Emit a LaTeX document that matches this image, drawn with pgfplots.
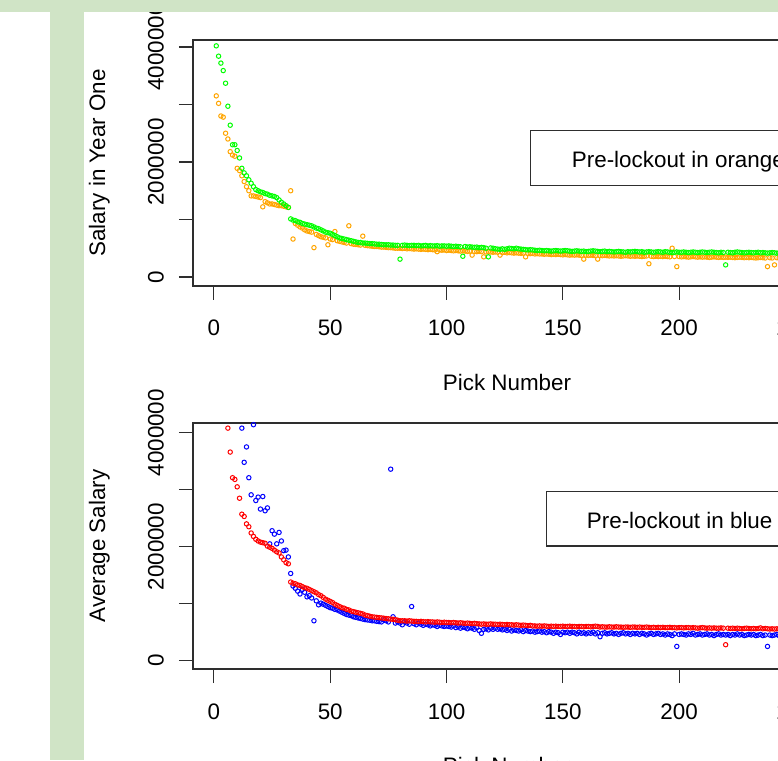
\documentclass[border=0pt]{standalone}
\usepackage{fontspec}
\setmainfont{Liberation Sans}
\usepackage{pgfplots}
\pgfplotsset{compat=1.18}
\definecolor{bgg}{HTML}{D0E4C6}
\definecolor{rorange}{HTML}{FFA500}
\definecolor{rgreen}{HTML}{00FF00}
\definecolor{rred}{HTML}{FF0000}
\definecolor{rblue}{HTML}{0000FF}
\definecolor{frm}{HTML}{2E2E2E}
\newcommand{\bigf}{\fontsize{22.4}{26}\selectfont}
\pgfplotsset{
  rstyle/.style={
    scale only axis, width=628pt, height=246pt,
    xmin=-9, xmax=261,
    axis line style={frm, line width=1.1pt},
    tick style={frm, line width=1.1pt},
    tick align=outside, major tick length=14pt,
    xtick={0,50,100,150,200,250}, xtick pos=bottom,
    ytick={0,1,2,3,4}, yticklabels={0,,2000000,,4000000}, ytick pos=left,
    /pgf/number format/assume math mode=true,
    tick label style={font=\bigf},
    xticklabel style={anchor=base, inner sep=0pt, yshift=-36pt},
    yticklabel style={xshift=-15pt, rotate=90, anchor=south, inner sep=0pt},
    xlabel={Pick Number},
    every axis x label/.style={at={(axis description cs:0.5,-0.4268)}, anchor=base, font=\bigf, inner sep=0pt},
    every axis y label/.style={at={(axis description cs:-0.1401,0.5)}, rotate=90, anchor=base, font=\bigf, inner sep=0pt},
  },
  pts/.style={only marks, mark=o, mark size=2.2pt, mark options={line width=1pt}, #1},
}
\begin{document}
\begin{tikzpicture}
\useasboundingbox (0pt,0pt) rectangle (778pt,760pt);
\clip (0pt,0pt) rectangle (778pt,760pt);
\begin{axis}[rstyle, at={(193pt,474pt)}, anchor=south west, ymin=-0.157, ymax=4.122, ylabel={Salary in Year One}]
\addplot[pts=rorange] coordinates {
(1,3.15)(2,3.02)(3,2.80)(4,2.78)(5,2.50)(6,2.40)(7,2.18)(8,2.12)(9,2.10)(10,1.89)
(11,1.85)(12,1.76)(13,1.66)(14,1.57)(15,1.50)(16,1.41)(17,1.41)(18,1.40)(19,1.39)(20,1.38)
(21,1.22)(22,1.31)(23,1.29)(24,1.27)(25,1.27)(26,1.26)(27,1.25)(28,1.24)(29,1.24)(30,1.23)
(31,1.22)(32,1.21)(33,1.50)(34,0.66)(35,0.93)(36,0.90)(37,0.87)(38,0.85)(39,0.82)(40,0.80)
(41,0.79)(42,0.78)(43,0.51)(44,0.74)(45,0.72)(46,0.70)(47,0.69)(48,0.68)(49,0.56)(50,0.66)
(51,0.65)(52,0.79)(53,0.63)(54,0.62)(55,0.61)(56,0.60)(57,0.59)(58,0.89)(59,0.58)(60,0.57)
(61,0.565)(62,0.56)(63,0.555)(64,0.71)(65,0.55)(66,0.545)(67,0.54)(68,0.535)(69,0.53)(70,0.53)
(71,0.525)(72,0.52)(73,0.52)(74,0.515)(75,0.51)(76,0.51)(77,0.505)(78,0.50)(79,0.50)(80,0.50)
(81,0.495)(82,0.50)(83,0.49)(84,0.495)(85,0.49)(86,0.485)(87,0.49)(88,0.485)(89,0.48)(90,0.485)
(91,0.48)(92,0.475)(93,0.48)(94,0.475)(95,0.47)(96,0.44)(97,0.47)(98,0.465)(99,0.47)(100,0.46)
(101,0.465)(102,0.46)(103,0.455)(104,0.46)(105,0.455)(106,0.45)(107,0.455)(108,0.45)(109,0.445)(110,0.45)
(111,0.38)(112,0.445)(113,0.44)(114,0.445)(115,0.44)(116,0.35)(117,0.435)(118,0.44)(119,0.435)(120,0.43)
(121,0.435)(122,0.43)(123,0.38)(124,0.425)(125,0.43)(126,0.42)(127,0.425)(128,0.42)(129,0.415)(130,0.42)
(131,0.415)(132,0.41)(133,0.415)(134,0.35)(135,0.41)(136,0.405)(137,0.41)(138,0.40)(139,0.405)(140,0.40)
(141,0.40)(142,0.395)(143,0.40)(144,0.395)(145,0.39)(146,0.395)(147,0.39)(148,0.395)(149,0.39)(150,0.385)
(151,0.39)(152,0.385)(153,0.38)(154,0.385)(155,0.38)(156,0.385)(157,0.38)(158,0.375)(159,0.31)(160,0.38)
(161,0.375)(162,0.38)(163,0.375)(164,0.37)(165,0.31)(166,0.375)(167,0.37)(168,0.375)(169,0.37)(170,0.365)
(171,0.37)(172,0.365)(173,0.37)(174,0.365)(175,0.36)(176,0.365)(177,0.37)(178,0.365)(179,0.36)(180,0.365)
(181,0.36)(182,0.365)(183,0.36)(184,0.355)(185,0.36)(186,0.365)(187,0.23)(188,0.36)(189,0.355)(190,0.36)
(191,0.355)(192,0.36)(193,0.355)(194,0.36)(195,0.355)(196,0.35)(197,0.50)(198,0.355)(199,0.18)(200,0.355)
(201,0.35)(202,0.355)(203,0.35)(204,0.345)(205,0.35)(206,0.355)(207,0.35)(208,0.345)(209,0.35)(210,0.345)
(211,0.35)(212,0.345)(213,0.34)(214,0.345)(215,0.35)(216,0.345)(217,0.34)(218,0.345)(219,0.34)(220,0.345)
(221,0.34)(222,0.345)(223,0.34)(224,0.335)(225,0.34)(226,0.345)(227,0.34)(228,0.335)(229,0.34)(230,0.335)
(231,0.34)(232,0.335)(233,0.33)(234,0.335)(235,0.34)(236,0.335)(237,0.33)(238,0.18)(239,0.335)(240,0.33)
(241,0.21)(242,0.335)(243,0.33)(244,0.325)(245,0.33)(246,0.335)(247,0.33)(248,0.325)(249,0.33)(250,0.325)
};
\addplot[pts=rgreen] coordinates {
(1,4.02)(2,3.84)(3,3.72)(4,3.59)(5,3.37)(6,2.97)(7,2.64)(8,2.30)(9,2.30)(10,2.20)
(11,2.07)(12,1.89)(13,1.81)(14,1.76)(15,1.69)(16,1.63)(17,1.57)(18,1.52)(19,1.50)(20,1.48)
(21,1.47)(22,1.45)(23,1.44)(24,1.42)(25,1.41)(26,1.40)(27,1.38)(28,1.34)(29,1.30)(30,1.27)
(31,1.24)(32,1.21)(33,1.01)(34,0.99)(35,0.98)(36,0.96)(37,0.95)(38,0.93)(39,0.92)(40,0.91)
(41,0.90)(42,0.89)(43,0.87)(44,0.85)(45,0.84)(46,0.82)(47,0.80)(48,0.78)(49,0.77)(50,0.76)
(51,0.74)(52,0.72)(53,0.70)(54,0.68)(55,0.67)(56,0.66)(57,0.65)(58,0.64)(59,0.63)(60,0.62)
(61,0.61)(62,0.60)(63,0.60)(64,0.59)(65,0.59)(66,0.585)(67,0.58)(68,0.58)(69,0.575)(70,0.57)
(71,0.57)(72,0.565)(73,0.56)(74,0.56)(75,0.56)(76,0.555)(77,0.555)(78,0.55)(79,0.55)(80,0.31)
(81,0.55)(82,0.555)(83,0.55)(84,0.545)(85,0.55)(86,0.55)(87,0.545)(88,0.55)(89,0.54)(90,0.545)
(91,0.55)(92,0.54)(93,0.545)(94,0.54)(95,0.54)(96,0.545)(97,0.535)(98,0.54)(99,0.54)(100,0.535)
(101,0.54)(102,0.535)(103,0.53)(104,0.535)(105,0.53)(106,0.525)(107,0.36)(108,0.53)(109,0.52)(110,0.525)
(111,0.52)(112,0.515)(113,0.52)(114,0.51)(115,0.515)(116,0.51)(117,0.50)(118,0.35)(119,0.505)(120,0.50)
(121,0.49)(122,0.485)(123,0.48)(124,0.49)(125,0.48)(126,0.49)(127,0.50)(128,0.495)(129,0.49)(130,0.50)
(131,0.49)(132,0.485)(133,0.48)(134,0.475)(135,0.47)(136,0.475)(137,0.47)(138,0.465)(139,0.46)(140,0.465)
(141,0.46)(142,0.455)(143,0.46)(144,0.455)(145,0.45)(146,0.455)(147,0.46)(148,0.455)(149,0.45)(150,0.455)
(151,0.46)(152,0.455)(153,0.45)(154,0.445)(155,0.45)(156,0.455)(157,0.45)(158,0.445)(159,0.45)(160,0.44)
(161,0.445)(162,0.45)(163,0.455)(164,0.45)(165,0.445)(166,0.44)(167,0.445)(168,0.45)(169,0.44)(170,0.445)
(171,0.44)(172,0.435)(173,0.44)(174,0.445)(175,0.44)(176,0.435)(177,0.43)(178,0.44)(179,0.435)(180,0.44)
(181,0.445)(182,0.44)(183,0.435)(184,0.44)(185,0.43)(186,0.435)(187,0.44)(188,0.435)(189,0.43)(190,0.435)
(191,0.44)(192,0.435)(193,0.43)(194,0.44)(195,0.435)(196,0.43)(197,0.425)(198,0.43)(199,0.435)(200,0.43)
(201,0.43)(202,0.435)(203,0.43)(204,0.425)(205,0.43)(206,0.435)(207,0.43)(208,0.425)(209,0.43)(210,0.435)
(211,0.43)(212,0.425)(213,0.43)(214,0.435)(215,0.43)(216,0.425)(217,0.42)(218,0.43)(219,0.425)(220,0.21)
(221,0.43)(222,0.425)(223,0.42)(224,0.43)(225,0.435)(226,0.43)(227,0.425)(228,0.42)(229,0.425)(230,0.43)
(231,0.425)(232,0.42)(233,0.425)(234,0.43)(235,0.42)(236,0.425)(237,0.42)(238,0.415)(239,0.42)(240,0.425)
(241,0.42)(242,0.415)(243,0.42)(244,0.425)(245,0.42)(246,0.415)(247,0.41)(248,0.42)(249,0.415)(250,0.41)
};
\end{axis}
\begin{axis}[rstyle, at={(193pt,91pt)}, anchor=south west, ymin=-0.146, ymax=4.17, ylabel={Average Salary}]
\addplot[pts=rblue] coordinates {
(12,4.08)(13,3.48)(14,3.75)(15,3.21)(16,2.91)(17,4.14)(18,2.81)(19,2.87)(20,2.66)
(21,2.88)(22,2.63)(23,2.68)(24,2.05)(25,2.28)(26,2.22)(27,2.05)(28,2.25)(29,2.10)(30,1.93)
(31,1.94)(32,1.82)(33,1.53)(34,1.31)(35,1.27)(36,1.22)(37,1.17)(38,1.25)(39,1.20)(40,1.12)
(41,1.14)(42,1.10)(43,0.70)(44,1.05)(45,0.98)(46,1.01)(47,0.99)(48,0.97)(49,0.95)(50,0.93)
(51,0.92)(52,0.90)(53,0.89)(54,0.87)(55,0.85)(56,0.83)(57,0.81)(58,0.80)(59,0.79)(60,0.77)
(61,0.76)(62,0.75)(63,0.74)(64,0.73)(65,0.72)(66,0.715)(67,0.71)(68,0.70)(69,0.70)(70,0.69)
(71,0.685)(72,0.68)(73,0.72)(74,0.70)(75,0.68)(76,3.36)(77,0.77)(78,0.66)(79,0.68)(80,0.66)
(81,0.63)(82,0.68)(83,0.66)(84,0.64)(85,0.95)(86,0.65)(87,0.63)(88,0.66)(89,0.64)(90,0.62)
(91,0.64)(92,0.63)(93,0.61)(94,0.63)(95,0.62)(96,0.60)(97,0.62)(98,0.61)(99,0.60)(100,0.61)
(101,0.60)(102,0.59)(103,0.61)(104,0.58)(105,0.60)(106,0.57)(107,0.59)(108,0.58)(109,0.56)(110,0.58)
(111,0.57)(112,0.55)(113,0.58)(114,0.53)(115,0.48)(116,0.55)(117,0.56)(118,0.54)(119,0.57)(120,0.55)
(121,0.57)(122,0.55)(123,0.56)(124,0.54)(125,0.55)(126,0.53)(127,0.55)(128,0.52)(129,0.54)(130,0.53)
(131,0.52)(132,0.54)(133,0.51)(134,0.53)(135,0.52)(136,0.51)(137,0.52)(138,0.50)(139,0.51)(140,0.52)
(141,0.50)(142,0.51)(143,0.49)(144,0.51)(145,0.50)(146,0.48)(147,0.50)(148,0.49)(149,0.46)(150,0.50)
(151,0.49)(152,0.50)(153,0.48)(154,0.50)(155,0.49)(156,0.47)(157,0.50)(158,0.48)(159,0.49)(160,0.47)
(161,0.49)(162,0.48)(163,0.50)(164,0.47)(165,0.49)(166,0.42)(167,0.48)(168,0.49)(169,0.47)(170,0.48)
(171,0.49)(172,0.47)(173,0.48)(174,0.46)(175,0.48)(176,0.49)(177,0.47)(178,0.48)(179,0.46)(180,0.48)
(181,0.47)(182,0.48)(183,0.46)(184,0.48)(185,0.47)(186,0.45)(187,0.47)(188,0.48)(189,0.46)(190,0.47)
(191,0.48)(192,0.46)(193,0.47)(194,0.45)(195,0.47)(196,0.46)(197,0.44)(198,0.47)(199,0.25)(200,0.46)
(201,0.47)(202,0.46)(203,0.45)(204,0.47)(205,0.46)(206,0.48)(207,0.45)(208,0.46)(209,0.47)(210,0.45)
(211,0.46)(212,0.47)(213,0.45)(214,0.46)(215,0.44)(216,0.46)(217,0.47)(218,0.45)(219,0.46)(220,0.45)
(221,0.46)(222,0.44)(223,0.46)(224,0.45)(225,0.47)(226,0.45)(227,0.46)(228,0.44)(229,0.45)(230,0.46)
(231,0.45)(232,0.46)(233,0.44)(234,0.45)(235,0.46)(236,0.44)(237,0.45)(238,0.25)(239,0.45)(240,0.44)
(241,0.45)(242,0.46)(243,0.44)(244,0.45)(245,0.44)(246,0.46)(247,0.45)(248,0.43)(249,0.45)(250,0.44)
};
\addplot[pts=rred] coordinates {
(6,4.08)(7,3.66)(8,3.21)(9,3.18)(10,3.05)
(11,2.85)(12,2.57)(13,2.53)(14,2.40)(15,2.35)(16,2.24)(17,2.18)(18,2.13)(19,2.10)(20,2.08)
(21,2.07)(22,2.06)(23,2.01)(24,1.99)(25,1.97)(26,1.94)(27,1.91)(28,1.89)(29,1.82)(30,1.77)
(31,1.72)(32,1.70)(33,1.38)(34,1.36)(35,1.35)(36,1.33)(37,1.32)(38,1.30)(39,1.28)(40,1.27)
(41,1.25)(42,1.23)(43,1.21)(44,1.19)(45,1.16)(46,1.14)(47,1.11)(48,1.08)(49,1.06)(50,1.04)
(51,1.02)(52,0.99)(53,0.97)(54,0.95)(55,0.93)(56,0.92)(57,0.90)(58,0.89)(59,0.87)(60,0.86)
(61,0.85)(62,0.84)(63,0.83)(64,0.82)(65,0.80)(66,0.79)(67,0.78)(68,0.77)(69,0.765)(70,0.76)
(71,0.755)(72,0.75)(73,0.745)(74,0.74)(75,0.735)(76,0.73)(77,0.725)(78,0.72)(79,0.71)(80,0.70)
(81,0.70)(82,0.70)(83,0.695)(84,0.70)(85,0.695)(86,0.69)(87,0.69)(88,0.685)(89,0.69)(90,0.685)
(91,0.68)(92,0.685)(93,0.68)(94,0.68)(95,0.675)(96,0.68)(97,0.675)(98,0.67)(99,0.675)(100,0.67)
(101,0.67)(102,0.665)(103,0.67)(104,0.665)(105,0.66)(106,0.665)(107,0.66)(108,0.655)(109,0.66)(110,0.655)
(111,0.65)(112,0.655)(113,0.65)(114,0.645)(115,0.64)(116,0.645)(117,0.64)(118,0.64)(119,0.645)(120,0.64)
(121,0.64)(122,0.635)(123,0.64)(124,0.635)(125,0.63)(126,0.635)(127,0.63)(128,0.63)(129,0.625)(130,0.63)
(131,0.625)(132,0.62)(133,0.625)(134,0.62)(135,0.615)(136,0.62)(137,0.61)(138,0.61)(139,0.605)(140,0.61)
(141,0.605)(142,0.61)(143,0.605)(144,0.60)(145,0.605)(146,0.60)(147,0.605)(148,0.60)(149,0.60)(150,0.605)
(151,0.60)(152,0.60)(153,0.605)(154,0.60)(155,0.60)(156,0.595)(157,0.60)(158,0.60)(159,0.595)(160,0.60)
(161,0.60)(162,0.595)(163,0.60)(164,0.605)(165,0.60)(166,0.59)(167,0.595)(168,0.59)(169,0.59)(170,0.595)
(171,0.59)(172,0.59)(173,0.595)(174,0.59)(175,0.59)(176,0.585)(177,0.59)(178,0.59)(179,0.585)(180,0.59)
(181,0.59)(182,0.585)(183,0.59)(184,0.585)(185,0.585)(186,0.59)(187,0.585)(188,0.58)(189,0.585)(190,0.58)
(191,0.585)(192,0.58)(193,0.585)(194,0.58)(195,0.58)(196,0.585)(197,0.58)(198,0.58)(199,0.575)(200,0.58)
(201,0.58)(202,0.575)(203,0.58)(204,0.58)(205,0.575)(206,0.58)(207,0.575)(208,0.57)(209,0.575)(210,0.58)
(211,0.575)(212,0.57)(213,0.575)(214,0.57)(215,0.575)(216,0.57)(217,0.57)(218,0.575)(219,0.57)(220,0.28)
(221,0.57)(222,0.565)(223,0.57)(224,0.565)(225,0.57)(226,0.565)(227,0.56)(228,0.565)(229,0.57)(230,0.565)
(231,0.56)(232,0.565)(233,0.56)(234,0.565)(235,0.575)(236,0.56)(237,0.565)(238,0.56)(239,0.555)(240,0.56)
(241,0.555)(242,0.56)(243,0.555)(244,0.56)(245,0.555)(246,0.55)(247,0.555)(248,0.55)(249,0.555)(250,0.55)
};
\end{axis}
% legends
\draw[frm, line width=1.1pt, fill=white] (530.7pt,574.3pt) rectangle (900pt,629.3pt);
\node[anchor=base west, inner sep=0pt, font=\bigf] at (571.7pt,592pt) {Pre-lockout in orange};
\draw[frm, line width=1.1pt, fill=white] (546.7pt,214pt) rectangle (900pt,268.3pt);
\node[anchor=base west, inner sep=0pt, font=\bigf] at (586.7pt,231.7pt) {Pre-lockout in blue};
% page background bands
\fill[bgg] (0pt,748pt) rectangle (778pt,760pt);
\fill[bgg] (50pt,0pt) rectangle (84pt,748pt);
\end{tikzpicture}
\end{document}
